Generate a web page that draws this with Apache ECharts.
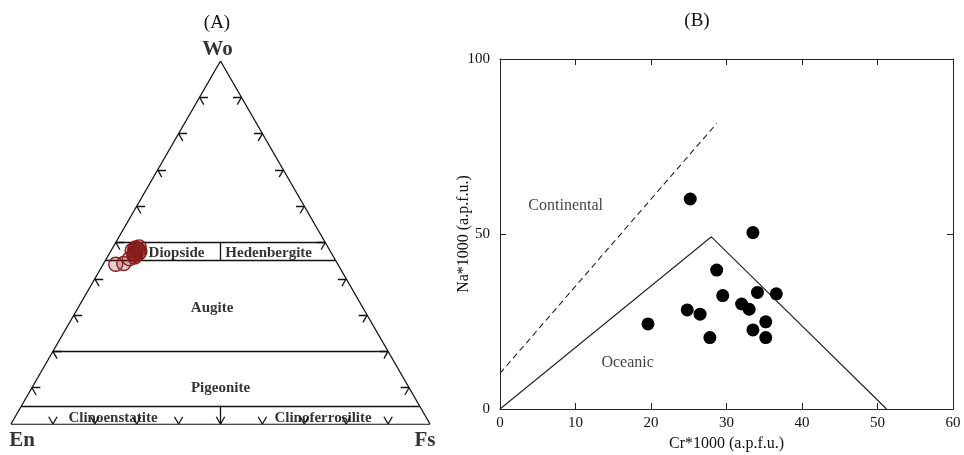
<!DOCTYPE html>
<html><head><meta charset="utf-8">
<script src="https://cdn.jsdelivr.net/npm/echarts/dist/echarts.min.js"></script>
<style>html,body{margin:0;padding:0;background:#fff}#c{width:964px;height:455px}</style>
</head><body><div id="c"></div>
<script>
// ---------- Panel A : pyroxene ternary (Wo, En, Fs in %) ----------
const vertexNames = ['Wo', 'En', 'Fs'];
const vertexComps = [[100, 0, 0], [0, 100, 0], [0, 0, 100]];
const boundaryWo = [50, 45, 20, 5];           // horizontal field boundaries
const dividerWo = [[45, 50], [0, 5]];         // vertical dividers at En = Fs
const edgeTicks = [10, 20, 30, 40, 50, 60, 70, 80, 90];
const fieldNames = ['Diopside', 'Hedenbergite', 'Augite', 'Pigeonite', 'Clinoenstatite', 'Clinoferrosilite'];
const fieldComps = [[47, 37, 16], [47, 15, 38], [32, 36, 32], [10, 45, 45], [1.7, 74.8, 23.5], [1.7, 24.6, 73.4]];
const samplesWo = [48.5, 48.0, 47.5, 47.0, 48.0, 47.5, 46.5, 48.8, 47.0, 46.0, 47.8, 48.3, 46.8, 45.5, 44.0, 44.2];
const samplesEn = [46.0, 45.5, 46.5, 47.0, 46.5, 45.5, 47.0, 45.0, 46.0, 47.5, 47.2, 45.7, 47.3, 49.0, 53.0, 51.0];
const samplesFs = [5.5, 6.5, 6.0, 6.0, 5.5, 7.0, 6.5, 6.2, 7.0, 6.5, 5.0, 6.0, 5.9, 5.5, 3.0, 4.8];

// ---------- Panel B : Na vs Cr ----------
const crB = [19.6, 25.2, 24.8, 26.5, 27.8, 28.7, 29.5, 32.0, 33.0, 33.5, 34.1, 33.5, 35.2, 35.2, 36.6];
const naB = [24.3, 60.0, 28.3, 27.1, 20.4, 39.7, 32.4, 30.0, 28.5, 50.4, 33.3, 22.6, 24.9, 20.4, 32.9];
const oceanicCr = [0, 28, 51.2];
const oceanicNa = [0, 49.2, 0];
const continentalCr = [0, 28.7];
const continentalNa = [10.2, 81.6];
const bLabelNames = ['Continental', 'Oceanic'];
const bLabelCr = [8.7, 16.9];
const bLabelNa = [58, 13.3];

// ternary -> cartesian (x: 0..1 along base, y: Wo fraction)
function tern(wo, en, fs) {
  const s = wo + en + fs;
  return [fs / s + wo / s / 2, wo / s];
}

const TK = 2; // tick arm length in %
const segs = [];
function seg(a, b) { segs.push({ coords: [tern(...a), tern(...b)] }); }
seg(vertexComps[1], vertexComps[2]);
seg(vertexComps[2], vertexComps[0]);
seg(vertexComps[0], vertexComps[1]);
boundaryWo.forEach(w => seg([w, 100 - w, 0], [w, 0, 100 - w]));
dividerWo.forEach(([a, b]) => seg([a, (100 - a) / 2, (100 - a) / 2], [b, (100 - b) / 2, (100 - b) / 2]));
edgeTicks.forEach(t => {
  seg([t, 100 - t, 0], [t, 100 - t - TK, TK]);
  seg([t, 100 - t, 0], [t - TK, 100 - t, TK]);
  seg([t, 0, 100 - t], [t, TK, 100 - t - TK]);
  seg([t, 0, 100 - t], [t - TK, TK, 100 - t]);
  seg([0, 100 - t, t], [TK, 100 - t, t - TK]);
  seg([0, 100 - t, t], [TK, 100 - t - TK, t]);
});

const serif = 'Liberation Serif, Times New Roman, serif';
const axisCommon = {
  axisLine: { onZero: false, lineStyle: { color: '#222', width: 1 } },
  axisTick: { inside: true, length: 6, lineStyle: { color: '#222' } },
  splitLine: { show: false }
};

const chart = echarts.init(document.getElementById('c'), null, { renderer: 'canvas' });
chart.setOption({
  animation: false,
  backgroundColor: '#fff',
  title: [
    { text: '(A)', left: 217, top: 14, textAlign: 'center', padding: 0,
      textStyle: { fontFamily: serif, fontSize: 19, fontWeight: 'normal', color: '#111' } },
    { text: '(B)', left: 697, top: 12, textAlign: 'center', padding: 0,
      textStyle: { fontFamily: serif, fontSize: 19, fontWeight: 'normal', color: '#111' } }
  ],
  grid: [
    { left: 11, right: 534, top: 61, bottom: 31, containLabel: false, outerBoundsMode: 'none' },
    { left: 500, right: 11, top: 59, bottom: 46, containLabel: false, outerBoundsMode: 'none' }
  ],
  xAxis: [
    { gridIndex: 0, type: 'value', min: 0, max: 1, show: false },
    Object.assign({ gridIndex: 1, type: 'value', min: 0, max: 60, interval: 10, position: 'bottom',
      axisLabel: { margin: 7, fontFamily: serif, fontSize: 15, color: '#111' },
      name: 'Cr*1000 (a.p.f.u.)', nameLocation: 'middle', nameGap: 27, nameMoveOverlap: false,
      nameTextStyle: { fontFamily: serif, fontSize: 16, color: '#111' } }, axisCommon),
    Object.assign({ gridIndex: 1, type: 'value', min: 0, max: 60, interval: 10, position: 'top',
      axisLabel: { show: false } }, axisCommon)
  ],
  yAxis: [
    { gridIndex: 0, type: 'value', min: 0, max: 1, show: false },
    Object.assign({ gridIndex: 1, type: 'value', min: 0, max: 100, interval: 50, position: 'left',
      axisLabel: { margin: 10, fontFamily: serif, fontSize: 15, color: '#111' },
      name: 'Na*1000 (a.p.f.u.)', nameLocation: 'middle', nameGap: 28, nameRotate: 90, nameMoveOverlap: false,
      nameTextStyle: { fontFamily: serif, fontSize: 16, color: '#111' } }, axisCommon),
    Object.assign({ gridIndex: 1, type: 'value', min: 0, max: 100, interval: 50, position: 'right',
      axisLabel: { show: false } }, axisCommon)
  ],
  series: [
    { type: 'lines', coordinateSystem: 'cartesian2d', xAxisIndex: 0, yAxisIndex: 0,
      polyline: false, silent: true, data: segs,
      lineStyle: { color: '#111', width: 1.3, opacity: 1, curveness: 0 } },
    { type: 'scatter', xAxisIndex: 0, yAxisIndex: 0, symbolSize: 14, silent: true, z: 5,
      data: samplesWo.map((w, i) => tern(w, samplesEn[i], samplesFs[i])),
      itemStyle: { color: 'rgba(140,30,30,0.22)', borderColor: '#861c1c', borderWidth: 1.4, opacity: 1 } },
    { type: 'scatter', xAxisIndex: 0, yAxisIndex: 0, symbolSize: 0, silent: true, z: 6,
      data: fieldNames.map((n, i) => ({ name: n, value: tern(...fieldComps[i]) })),
      label: { show: true, position: 'inside', formatter: '{b}', fontFamily: serif,
               fontSize: 15, fontWeight: 'bold', color: '#000' } },
    { type: 'scatter', xAxisIndex: 0, yAxisIndex: 0, symbolSize: 0, silent: true, z: 6,
      data: vertexNames.map((n, i) => {
        const lab = i === 0 ? { position: 'top', distance: 1, offset: [-3, 0] }
                  : i === 1 ? { position: 'bottom', distance: 6, offset: [11, 0] }
                  : { position: 'bottom', distance: 6, offset: [-5, 0] };
        return { name: n, value: tern(...vertexComps[i]), label: lab };
      }),
      label: { show: true, formatter: '{b}', fontFamily: serif, fontSize: 21,
               fontWeight: 'bold', color: '#000' } },
    { type: 'line', xAxisIndex: 1, yAxisIndex: 1, symbol: 'none', silent: true,
      data: oceanicCr.map((c, i) => [c, oceanicNa[i]]),
      lineStyle: { color: '#222', width: 1.1 } },
    { type: 'line', xAxisIndex: 1, yAxisIndex: 1, symbol: 'none', silent: true,
      data: continentalCr.map((c, i) => [c, continentalNa[i]]),
      lineStyle: { color: '#222', width: 1.1, type: [6, 4] } },
    { type: 'scatter', xAxisIndex: 1, yAxisIndex: 1, symbolSize: 13, silent: true, z: 5,
      data: crB.map((c, i) => [c, naB[i]]), itemStyle: { color: '#000', opacity: 1 } },
    { type: 'scatter', xAxisIndex: 1, yAxisIndex: 1, symbolSize: 0, silent: true,
      data: bLabelNames.map((n, i) => ({ name: n, value: [bLabelCr[i], bLabelNa[i]] })),
      label: { show: true, position: 'inside', formatter: '{b}', fontFamily: serif,
               fontSize: 16, color: '#111' } }
  ]
});
</script></body></html>
